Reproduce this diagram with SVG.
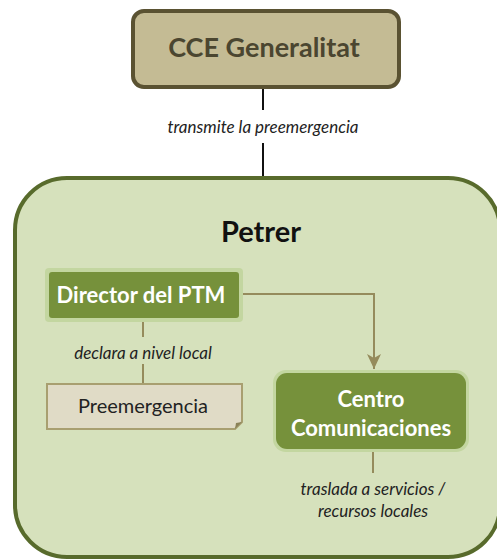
<svg xmlns="http://www.w3.org/2000/svg" width="497" height="560" viewBox="0 0 497 560">
<style>
.lbl{font-family:Lato,"Open Sans","Liberation Sans",sans-serif;font-style:italic;font-size:17px;fill:#222;text-anchor:middle}
.wt{font-family:Lato,"Open Sans","Liberation Sans",sans-serif;font-weight:bold;fill:#fff;text-anchor:middle}
.ln{stroke:#958b5c;stroke-width:2;fill:none}
</style>
<defs>
<marker id="ah" viewBox="0 0 15 14" refX="15" refY="7" markerWidth="15" markerHeight="14" markerUnits="userSpaceOnUse" orient="auto">
<path d="M0,0 L15,7 L0,14 L4,7 z" fill="#958b5c"/>
</marker>
</defs>
<g id="petrer">
<rect x="15" y="178" width="485" height="379" rx="52" fill="#d6e1bc" stroke="#586b2c" stroke-width="4"/>
<text x="261" y="242" text-anchor="middle" font-family="Lato,'Open Sans','Liberation Sans',sans-serif" font-weight="bold" font-size="29" fill="#111">Petrer</text>
</g>
<g id="connectors">
<line x1="263" y1="88" x2="263" y2="110" stroke="#111" stroke-width="2"/>
<line x1="263" y1="143" x2="263" y2="176" stroke="#111" stroke-width="2"/>
<text class="lbl" x="263" y="133">transmite la preemergencia</text>
<path class="ln" d="M243,294 H374 V369" marker-end="url(#ah)"/>
<line class="ln" x1="143" y1="322" x2="143" y2="337"/>
<line class="ln" x1="143" y1="364" x2="143" y2="383"/>
<text class="lbl" x="143" y="359">declara a nivel local</text>
<line class="ln" x1="373" y1="452" x2="373" y2="473"/>
<text class="lbl" x="373" y="495">traslada a servicios /</text>
<text class="lbl" x="373" y="517">recursos locales</text>
</g>
<g id="cce">
<rect x="133" y="11" width="266" height="76" rx="11" fill="#c4bb94" stroke="#5a5232" stroke-width="4"/>
<text x="264" y="57" text-anchor="middle" font-family="Lato,'Open Sans','Liberation Sans',sans-serif" font-weight="bold" font-size="27" fill="#4b4630">CCE Generalitat</text>
</g>
<g id="director">
<rect x="45" y="268" width="198" height="54" rx="4" fill="#c3d6a0"/>
<rect x="49" y="272" width="190" height="46" rx="3" fill="#76913b"/>
<text class="wt" x="141" y="303" font-size="22">Director del PTM</text>
</g>
<g id="preemergencia">
<path d="M47,384 H242 V422 L235,429 H47 Z" fill="#e0dbc6" stroke="#a89f70" stroke-width="2"/>
<path d="M242,422 L235,429 L236,423 Z" fill="#8a8258"/>
<text x="143" y="413" text-anchor="middle" font-family="Lato,'Open Sans','Liberation Sans',sans-serif" font-size="20" fill="#222">Preemergencia</text>
</g>
<g id="centro">
<rect x="273" y="370" width="196" height="82" rx="13" fill="#c3d6a0"/>
<rect x="276" y="373" width="190" height="76" rx="11" fill="#76913b"/>
<text class="wt" x="371" y="407" font-size="22" font-weight="600">Centro</text>
<text class="wt" x="371" y="436" font-size="22" font-weight="600">Comunicaciones</text>
</g>
</svg>
